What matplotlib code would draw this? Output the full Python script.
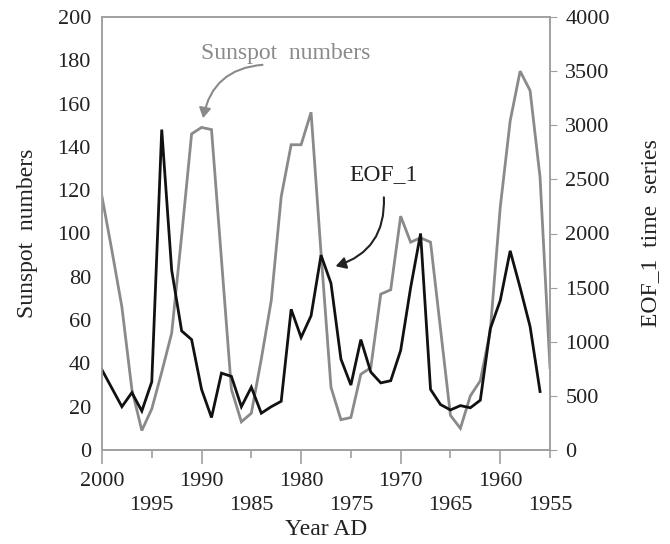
import matplotlib
matplotlib.use("Agg")
import matplotlib.pyplot as plt
from matplotlib.ticker import MultipleLocator, FixedLocator
from matplotlib.patches import FancyArrowPatch

plt.rcParams['font.family'] = ['Liberation Serif', 'DejaVu Serif']

sun_years = list(range(2000, 1954, -1))
sunspot = [117, 92, 66, 28, 9, 19, 36, 54, 99, 146,
           149, 148, 88, 28, 13, 17, 42, 69, 117, 141,
           141, 156, 91, 29, 14, 15, 35, 38, 72, 74,
           108, 96, 98, 96, 56, 16, 10, 25, 32, 55,
           112, 152, 175, 166, 126, 38]

eof_years = list(range(2000, 1955, -1))
eof1 = [740, 570, 400, 530, 360, 630, 2960, 1660, 1100, 1020,
        560, 300, 710, 680, 400, 580, 340, 400, 450, 1300,
        1040, 1240, 1800, 1540, 840, 600, 1020, 720, 620, 640,
        920, 1500, 2000, 560, 420, 370, 410, 390, 460, 1120,
        1380, 1840, 1500, 1140, 540]

major_years = [2000, 1990, 1980, 1970, 1960]
minor_years = [1995, 1985, 1975, 1965, 1955]

GREY = '#8a8a8a'
SPINE = '#a0a0a0'
TXT = '#222222'

fig = plt.figure(figsize=(6.7, 5.44), dpi=100)
ax = fig.add_axes([102/670, 1-450/544, (550-102)/670, (450-17)/544])
ax2 = ax.twinx()

ax.plot(sun_years, sunspot, color=GREY, lw=2.0, solid_joinstyle='miter')
ax2.plot(eof_years, eof1, color='#111111', lw=2.0, solid_joinstyle='miter')

ax.set_xlim(2000, 1955)
ax.set_ylim(0, 200)
ax2.set_ylim(0, 4000)

for a in (ax, ax2):
    for s in a.spines.values():
        s.set_color(SPINE)
        s.set_linewidth(1.2)

ax.yaxis.set_major_locator(MultipleLocator(20))
ax2.yaxis.set_major_locator(MultipleLocator(500))
ax.tick_params(axis='y', length=0, labelsize=16, labelcolor=TXT, pad=8)
ax2.tick_params(axis='y', length=5, color=SPINE, labelsize=16, labelcolor=TXT, pad=6)

ax.xaxis.set_major_locator(FixedLocator(major_years))
ax.xaxis.set_minor_locator(FixedLocator(minor_years))
ax.set_xticklabels([str(y) for y in major_years])
ax.set_xticklabels([str(y) for y in minor_years], minor=True)
ax.tick_params(axis='x', which='major', length=10, color=SPINE, width=1.2,
               labelsize=16, labelcolor=TXT, pad=6)
ax.tick_params(axis='x', which='minor', length=6, color=SPINE, width=1.2,
               labelsize=16, labelcolor=TXT, pad=27)

ax.set_ylabel('Sunspot  numbers', fontsize=17, color=TXT, labelpad=14)
ax2.set_ylabel('EOF_1  time  series', fontsize=17, color=TXT, labelpad=22)
ax.set_xlabel('Year AD', fontsize=17, color=TXT, labelpad=3)

ax.text(1981.5, 183, 'Sunspot  numbers', fontsize=17, color=GREY,
        ha='center', va='center')
ax.add_patch(FancyArrowPatch((1983.6, 178), (1989.9, 152),
             connectionstyle='arc3,rad=0.4',
             arrowstyle='-|>,head_length=6,head_width=3.5',
             color=GREY, lw=1.5))

ax.text(1971.7, 127, 'EOF_1', fontsize=17, color=TXT, ha='center', va='center')
ax.add_patch(FancyArrowPatch((1971.7, 118), (1976.8, 84.5),
             connectionstyle='arc3,rad=-0.4',
             arrowstyle='-|>,head_length=6,head_width=3.5',
             color='#222222', lw=1.5))

fig.savefig('out.png', dpi=100)
